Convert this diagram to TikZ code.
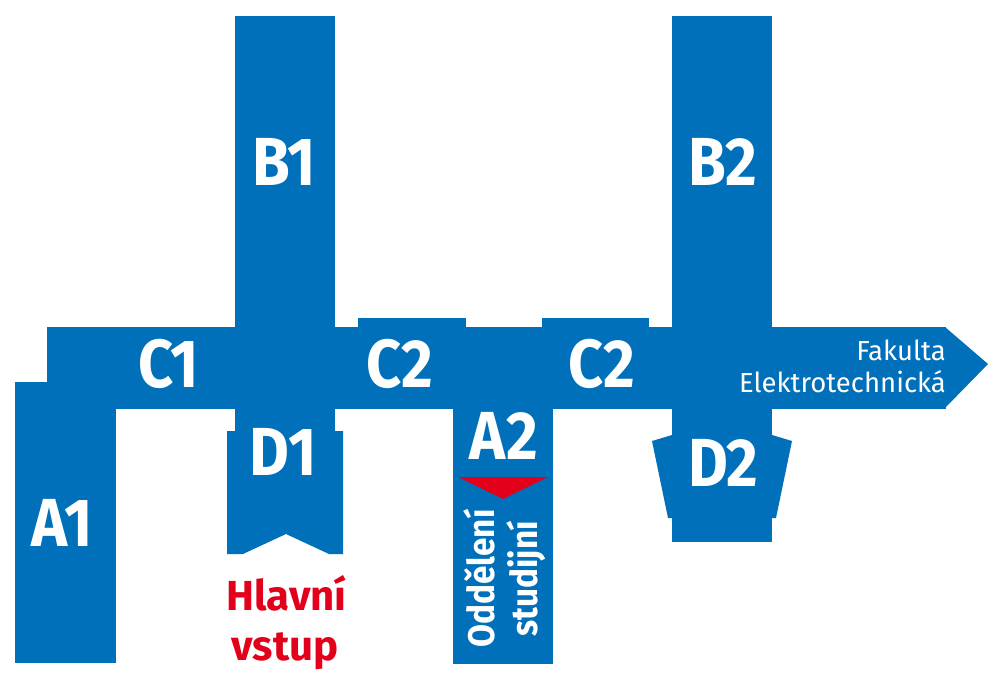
\documentclass[tikz,border=0pt]{standalone}
\usepackage{fontspec}
\setmainfont{Fira Sans}
\newfontfamily\labelfont[FakeStretch=0.9]{Fira Sans}
\definecolor{fblue}{HTML}{0070BA}
\definecolor{fred}{HTML}{E2001A}
\tikzset{
  wing/.style={fill=fblue, draw=none},
  lbl/.style={text=white, inner sep=0pt, anchor=base, font=\labelfont\bfseries\fontsize{68}{68}\selectfont},
  entry/.style={text=fred, inner sep=0pt, anchor=base, font=\bfseries\fontsize{42}{42}\selectfont},
  vtxt/.style={text=white, inner sep=0pt, anchor=base, rotate=90, font=\labelfont\bfseries\fontsize{37}{37}\selectfont},
  fak/.style={text=white, inner sep=0pt, anchor=base east, font=\fontsize{27.5}{27.5}\selectfont},
  marker/.style={fill=fred, draw=none}
}
\begin{document}
\begin{tikzpicture}[x=1pt,y=-1pt]
\useasboundingbox (0,0) rectangle (1000,680);
% A1
\fill[wing] (15,382) rectangle (116,663);
% corridor
\fill[wing] (47,327) rectangle (946,409);
\fill[wing] (358,318) rectangle (466,328);
\fill[wing] (542,318) rectangle (649,328);
\fill[wing] (945,327) -- (988,364) -- (945,408) -- cycle;
% B1 and D1
\fill[wing] (235,16) rectangle (335,432);
\fill[wing] (227,431) -- (343,431) -- (343,554) -- (329,554) -- (286,534) -- (243,554) -- (227,554) -- cycle;
% A2
\fill[wing] (453,408) rectangle (553,664);
\fill[marker] (458,477) -- (548,477) -- (503,499) -- cycle;
% B2 and D2
\fill[wing] (672,16) rectangle (772,542);
\fill[wing] (652,441) -- (672,435) -- (772,435) -- (792,441) -- (776,518) -- (668,518) -- cycle;
% labels
\node[lbl] (B1) at (284,185) {B1};
\node[lbl] (B2) at (723,185) {B2};
\node[lbl] (C1) at (168.5,387) {C1};
\node[lbl] (C2a) at (400,387) {C2};
\node[lbl] (C2b) at (601.5,387) {C2};
\node[lbl] (A1) at (62.5,546) {A1};
\node[lbl] (D1) at (283.5,475) {D1};
\node[lbl] (A2) at (504,459) {A2};
\node[lbl] (D2) at (723.5,486) {D2};
\node[fak] (fak1) at (946,360) {Fakulta};
\node[fak] (fak2) at (946,392) {Elektrotechnická};
\node[entry] (hl1) at (286.5,610) {Hlavní};
\node[entry] (hl2) at (285,660) {vstup};
\node[vtxt] (od1) at (494,578.5) {Oddělení};
\node[vtxt] (od2) at (537,579) {studijní};
\end{tikzpicture}
\end{document}
